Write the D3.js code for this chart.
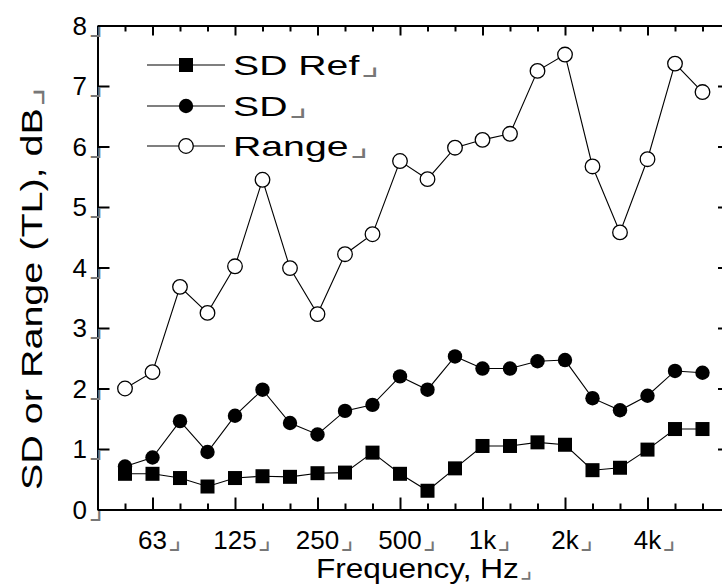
<!DOCTYPE html>
<html><head><meta charset="utf-8">
<script src="https://cdn.jsdelivr.net/npm/d3@7"></script>
<style>body{margin:0;background:#fff} text{font-family:"Liberation Sans",Arial,Helvetica,sans-serif;fill:#000}
.cn{font-family:"DejaVu Sans",sans-serif;fill:#777}</style>
</head><body><svg id="c" width="722" height="584"></svg>
<script>
// third-octave band centre frequencies (Hz)
const frequencies = ["50","63","80","100","125","160","200","250","315","400","500","630","800","1k","1.25k","1.6k","2k","2.5k","3.15k","4k","5k","6.3k"];
const tickLabels = ["63","125","250","500","1k","2k","4k"];
const yTicks = [0,1,2,3,4,5,6,7,8];
const sdRef = [0.59,0.59,0.52,0.38,0.52,0.55,0.54,0.60,0.61,0.94,0.59,0.31,0.68,1.05,1.05,1.11,1.07,0.65,0.69,0.99,1.33,1.33];
const sd    = [0.71,0.86,1.46,0.95,1.55,1.98,1.43,1.24,1.63,1.73,2.20,1.98,2.53,2.33,2.33,2.45,2.47,1.84,1.64,1.88,2.29,2.26];
const range = [2.00,2.27,3.68,3.25,4.02,5.45,3.99,3.23,4.22,4.55,5.76,5.46,5.98,6.11,6.21,7.25,7.52,5.67,4.58,5.79,7.37,6.90];
const seriesNames = ["SD Ref","SD","Range"];
const CORNER = "\u231F";

const svg = d3.select("#c");
svg.append("rect").attr("width",722).attr("height",584).attr("fill","#fff");

const x = d3.scaleLinear().domain([-1, frequencies.length]).range([97.5, 730]);
const y = d3.scaleLinear().domain([0, 8]).range([509.5, 25.5]);
const idx = d3.range(frequencies.length);
const majorIdx = tickLabels.map(l => frequencies.indexOf(l));

function styleAxis(g){
  g.select(".domain").attr("stroke","#000").attr("stroke-width",2);
  g.selectAll(".tick line").attr("stroke","#000").attr("stroke-width",2);
  g.selectAll(".tick text").remove();
}
// bottom
svg.append("g").attr("transform",`translate(0,${y(0)})`)
  .call(d3.axisBottom(x).tickValues(idx.filter(i=>!majorIdx.includes(i))).tickSize(-6).tickSizeOuter(0)).call(styleAxis);
svg.append("g").attr("transform",`translate(0,${y(0)})`)
  .call(d3.axisBottom(x).tickValues(majorIdx).tickSize(-12).tickSizeOuter(0)).call(styleAxis);
// top
svg.append("g").attr("transform",`translate(0,${y(8)})`)
  .call(d3.axisTop(x).tickValues(idx.filter(i=>!majorIdx.includes(i))).tickSize(-6).tickSizeOuter(0)).call(styleAxis);
svg.append("g").attr("transform",`translate(0,${y(8)})`)
  .call(d3.axisTop(x).tickValues(majorIdx).tickSize(-10).tickSizeOuter(0)).call(styleAxis);
// left / right
svg.append("g").attr("transform",`translate(${x(-1)},0)`)
  .call(d3.axisLeft(y).tickValues(yTicks).tickSize(-12).tickSizeOuter(0)).call(styleAxis);
svg.append("g").attr("transform",`translate(${x(frequencies.length)},0)`)
  .call(d3.axisRight(y).tickValues(yTicks).tickSize(-12).tickSizeOuter(0)).call(styleAxis);

// y tick labels
yTicks.forEach(v=>{
  const t = svg.append("text").attr("x",103).attr("y", y(v)+9).attr("font-size",26).attr("text-anchor","end");
  t.append("tspan").text(v);
  t.append("tspan").attr("class","cn").attr("dx",2).attr("font-size",30).text(CORNER);
});
// x tick labels
tickLabels.forEach(l=>{
  const i = frequencies.indexOf(l);
  const t = svg.append("text").attr("y", 549).attr("font-size",26);
  const n = t.append("tspan").text(l);
  t.append("tspan").attr("class","cn").attr("dx",1).attr("font-size",28).text(CORNER);
  const w = n.node().getComputedTextLength();
  t.attr("x", x(i) - w/2);
});

function stretched(txt, px, py, size, target, rotate, csize){
  const g = svg.append("g");
  const t = g.append("text").attr("font-size",size);
  const n = t.append("tspan").text(txt);
  t.append("tspan").attr("class","cn").attr("dx",1).attr("font-size",csize).text(CORNER);
  const w = n.node().getComputedTextLength();
  const s = target / w;
  g.attr("transform", `translate(${px},${py})` + (rotate?" rotate(-90)":"") + ` scale(${s},1)`);
  return g;
}
// axis titles
stretched("Frequency, Hz", 316, 578, 28, 203, false, 24);
stretched("SD or Range (TL), dB", 42, 490, 30, 382, true, 32);

// series
const line = d3.line().x((d,i)=>x(i)).y(d=>y(d));
[range, sd, sdRef].forEach(s=>{
  svg.append("path").attr("d", line(s)).attr("fill","none").attr("stroke","#000").attr("stroke-width",1.1);
});
function marker(g, type, cx, cy){
  if(type===0) g.append("rect").attr("x",cx-7).attr("y",cy-7).attr("width",14).attr("height",14).attr("fill","#000");
  else if(type===1) g.append("circle").attr("cx",cx).attr("cy",cy).attr("r",7.2).attr("fill","#000");
  else g.append("circle").attr("cx",cx).attr("cy",cy).attr("r",7.3).attr("fill","#fff").attr("stroke","#000").attr("stroke-width",1.3);
}
const mk = svg.append("g");
sdRef.forEach((v,i)=>marker(mk,0,x(i),y(v)));
sd.forEach((v,i)=>marker(mk,1,x(i),y(v)));
range.forEach((v,i)=>marker(mk,2,x(i),y(v)));

// legend
const rows = [65,106,146];
seriesNames.forEach((name,k)=>{
  svg.append("line").attr("x1",147).attr("x2",225).attr("y1",rows[k]).attr("y2",rows[k]).attr("stroke","#000").attr("stroke-width",1.1);
  marker(svg, k, 186, rows[k]);
  const natural = (()=>{const t=svg.append("text").attr("font-size",28).text(name);const w=t.node().getComputedTextLength();t.remove();return w;})();
  stretched(name, 233, rows[k]+10, 28, natural*1.4, false, 28);
});
</script></body></html>
